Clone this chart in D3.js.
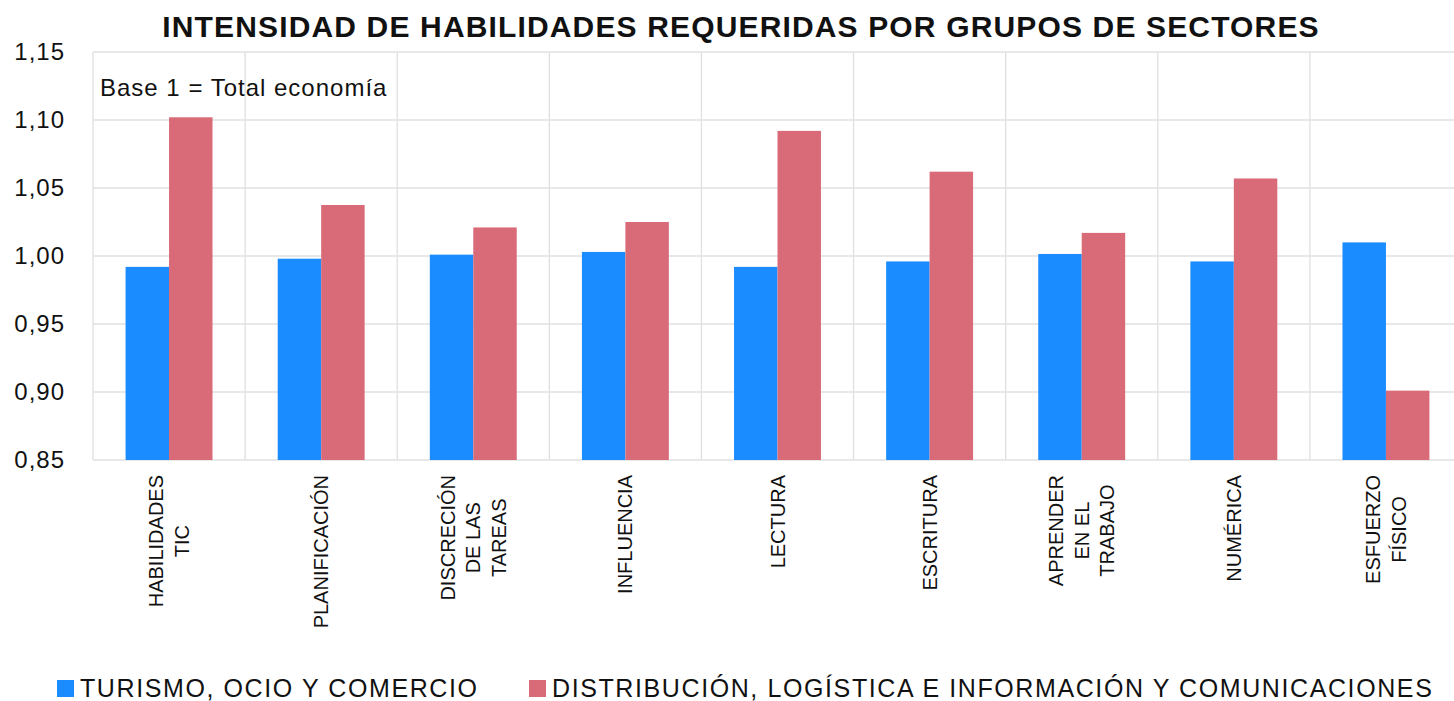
<!DOCTYPE html>
<html>
<head>
<meta charset="utf-8">
<script src="https://cdn.jsdelivr.net/npm/d3@7"></script>
<style>
  body { margin: 0; background: #fff; }
  text { font-family: "Liberation Sans", Arial, sans-serif; fill: #111; }
</style>
</head>
<body>
<svg id="chart" width="1454" height="701"></svg>
<script>
const categories = [
  ["HABILIDADES", "TIC"],
  ["PLANIFICACIÓN"],
  ["DISCRECIÓN", "DE LAS", "TAREAS"],
  ["INFLUENCIA"],
  ["LECTURA"],
  ["ESCRITURA"],
  ["APRENDER", "EN EL", "TRABAJO"],
  ["NUMÉRICA"],
  ["ESFUERZO", "FÍSICO"]
];
const seriesNames = ["TURISMO, OCIO Y COMERCIO", "DISTRIBUCIÓN, LOGÍSTICA E INFORMACIÓN Y COMUNICACIONES"];
const turismo = [0.992, 0.998, 1.001, 1.003, 0.992, 0.996, 1.0015, 0.996, 1.010];
const distribucion = [1.102, 1.0375, 1.021, 1.025, 1.092, 1.062, 1.017, 1.057, 0.901];
const yTicks = [0.85, 0.90, 0.95, 1.00, 1.05, 1.10, 1.15];
const colors = ["#1a8cff", "#d96b78"];

const margin = {top: 52, left: 93, bottom: 241};
const width = 1369, height = 701 - margin.top - margin.bottom;

const svg = d3.select("#chart");
const g = svg.append("g").attr("transform", `translate(${margin.left},${margin.top})`);

const keys = categories.map((d, i) => i);
const x = d3.scaleBand().domain(keys).range([0, width]).paddingInner(0).paddingOuter(0);
const xInner = d3.scaleBand().domain([0, 1]).range([0, x.bandwidth()]).paddingInner(0).paddingOuter(0.75);
const y = d3.scaleLinear().domain([0.85, 1.15]).range([height, 0]);

// grid
g.append("g").selectAll("line.h").data(yTicks).join("line")
  .attr("x1", 0).attr("x2", width)
  .attr("y1", d => y(d)).attr("y2", d => y(d))
  .attr("stroke", "#e0e0e0").attr("stroke-width", 1.3);
g.append("g").selectAll("line.v").data(d3.range(categories.length + 1)).join("line")
  .attr("x1", d => d * x.step()).attr("x2", d => d * x.step())
  .attr("y1", 0).attr("y2", height)
  .attr("stroke", "#e0e0e0").attr("stroke-width", 1.3);

// bars
const groups = g.append("g").selectAll("g").data(keys).join("g")
  .attr("transform", d => `translate(${x(d)},0)`);
groups.selectAll("rect").data(i => [turismo[i], distribucion[i]]).join("rect")
  .attr("x", (d, j) => xInner(j))
  .attr("width", xInner.bandwidth())
  .attr("y", d => y(d))
  .attr("height", d => height - y(d))
  .attr("fill", (d, j) => colors[j]);

// y axis labels
const yAxis = g.append("g").call(d3.axisLeft(y).tickValues(yTicks)
  .tickFormat(d => d3.format(".2f")(d).replace(".", ",")).tickSize(0).tickPadding(28));
yAxis.select(".domain").remove();
yAxis.selectAll("text").attr("font-size", 24).attr("letter-spacing", 1)
  .attr("font-family", "Liberation Sans, Arial, sans-serif").attr("fill", "#111");

// x labels (rotated, multi-line centred)
const xl = g.append("g");
categories.forEach((lines, i) => {
  const cx = x(i) + x.bandwidth() / 2;
  const lg = xl.append("g").attr("transform", `translate(${cx},${height + 15}) rotate(-90)`);
  const t = lg.append("text").attr("font-size", 20).attr("text-anchor", "middle");
  const lh = 25.5;
  lines.forEach((l, k) => {
    t.append("tspan").attr("x", 0)
      .attr("y", (k - (lines.length - 1) / 2) * lh + 7)
      .text(l);
  });
  let maxLen = 0;
  t.selectAll("tspan").each(function() { maxLen = Math.max(maxLen, this.getComputedTextLength()); });
  t.selectAll("tspan").attr("x", -maxLen / 2);
});

// note
g.append("text").attr("x", 7).attr("y", 44).attr("font-size", 24).attr("letter-spacing", 1)
  .text("Base 1 = Total economía");

// title
svg.append("text").attr("x", 741).attr("y", 37).attr("text-anchor", "middle")
  .attr("font-size", 30).attr("letter-spacing", 1.15).attr("font-weight", "bold")
  .text("INTENSIDAD DE HABILIDADES REQUERIDAS POR GRUPOS DE SECTORES");

// legend
const legendX = [57, 529];
const leg = svg.append("g").attr("transform", "translate(0,680)");
seriesNames.forEach((n, i) => {
  leg.append("rect").attr("x", legendX[i]).attr("y", 0).attr("width", 17).attr("height", 17).attr("fill", colors[i]);
  leg.append("text").attr("x", legendX[i] + 23).attr("y", 17).attr("font-size", 25)
    .attr("letter-spacing", 1.6).text(n);
});
</script>
</body>
</html>
